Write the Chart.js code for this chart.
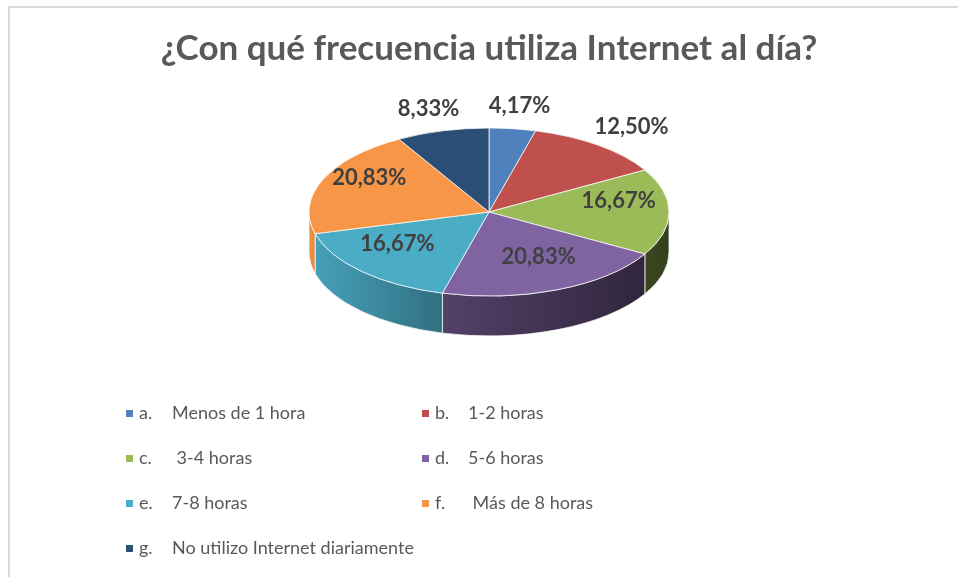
<!DOCTYPE html>
<html>
<head>
<meta charset="utf-8">
<script src="https://cdn.jsdelivr.net/npm/chart.js@4.4.1/dist/chart.umd.min.js"></script>
<style>
  html, body { margin: 0; padding: 0; background: #fff; }
  #wrap { position: relative; width: 958px; height: 577px; overflow: hidden; }
  #frame { position: absolute; left: 8px; top: 6px; width: 960px; height: 580px;
           border-left: 2px solid #d9d9d9; border-top: 2px solid #d9d9d9; }
  canvas { position: absolute; left: 0; top: 0; }
</style>
</head>
<body>
<div id="wrap">
  <div id="frame"></div>
  <canvas id="chart" width="958" height="577"></canvas>
</div>
<script>
const title = '¿Con qué frecuencia utiliza Internet al día?';
const letters = ['a.', 'b.', 'c.', 'd.', 'e.', 'f.', 'g.'];
const categories = ['Menos de 1 hora', '1-2 horas', ' 3-4 horas', '5-6 horas', '7-8 horas', ' Más de 8 horas', 'No utilizo Internet diariamente'];
const percentages = [4.17, 12.50, 16.67, 20.83, 16.67, 20.83, 8.33];
const colors = ['#4f81bd', '#c0504d', '#9bbb59', '#8064a2', '#4bacc6', '#f79646', '#2c4d75'];

// fake 3d look: squash the pie and put a darker rim under it
const PIE_CY = 212;
const TILT = 84 / 180;
const DEPTH = 40;

// legend grid
const LEGEND_COLS = [126, 422];
const LEGEND_ROWS = [413, 458, 503, 548];

function shade(hex, f) {
  const n = parseInt(hex.slice(1), 16);
  const r = Math.round(((n >> 16) & 255) * f);
  const g = Math.round(((n >> 8) & 255) * f);
  const b = Math.round((n & 255) * f);
  return `rgb(${r}, ${g}, ${b})`;
}

const fmt = (v) => v.toFixed(2).replace('.', ',') + '%';

const pie3d = {
  id: 'pie3d',
  beforeDatasetsDraw(chart) {
    const ctx = chart.ctx;
    const arcs = chart.getDatasetMeta(0).data;
    const { x: cx, y: cy, outerRadius: r } = arcs[0];
    const d = DEPTH / TILT;

    ctx.save();
    ctx.translate(0, PIE_CY);
    ctx.scale(1, TILT);
    ctx.translate(0, -cy);

    // side of the slices that face the viewer (angles 0..PI)
    arcs.forEach((arc, i) => {
      const a0 = Math.max(arc.startAngle, 0);
      const a1 = Math.min(arc.endAngle, Math.PI);
      if (a1 <= a0) return;
      const g = ctx.createLinearGradient(cx - r, 0, cx + r, 0);
      g.addColorStop(0, shade(colors[i], 0.95));
      g.addColorStop(0.35, shade(colors[i], 0.66));
      g.addColorStop(1, shade(colors[i], 0.34));
      ctx.beginPath();
      ctx.arc(cx, cy, r, a0, a1);
      ctx.lineTo(cx + r * Math.cos(a1), cy + d + r * Math.sin(a1));
      ctx.arc(cx, cy + d, r, a1, a0, true);
      ctx.closePath();
      ctx.fillStyle = g;
      ctx.fill();
      ctx.lineWidth = 1;
      ctx.strokeStyle = '#ffffff';
      ctx.stroke();
    });
  },
  afterDatasetsDraw(chart) {
    chart.ctx.restore();
  }
};

const sliceLabels = {
  id: 'sliceLabels',
  afterDraw(chart) {
    const ctx = chart.ctx;
    const arcs = chart.getDatasetMeta(0).data;
    ctx.save();
    ctx.font = 'bold 22px Lato';
    ctx.fillStyle = '#404040';
    ctx.textAlign = 'center';
    ctx.textBaseline = 'middle';
    arcs.forEach((arc, i) => {
      const mid = (arc.startAngle + arc.endAngle) / 2;
      const outside = percentages[i] < 13;
      const f = outside ? 1.3 : 0.72;
      const x = arc.x + arc.outerRadius * f * Math.cos(mid);
      const y = PIE_CY + TILT * arc.outerRadius * f * Math.sin(mid) - (outside ? -2 : 11);
      ctx.fillText(fmt(percentages[i]), x, y);
    });
    ctx.restore();
  }
};

const legendGrid = {
  id: 'legendGrid',
  afterDraw(chart) {
    const ctx = chart.ctx;
    ctx.save();
    ctx.font = '18px Lato';
    ctx.textBaseline = 'middle';
    chart.data.labels.forEach((label, i) => {
      const x = LEGEND_COLS[i % 2];
      const y = LEGEND_ROWS[Math.floor(i / 2)];
      ctx.fillStyle = colors[i];
      ctx.fillRect(x, y - 3, 7, 7);
      ctx.fillStyle = '#595959';
      ctx.fillText(letters[i], x + 13, y);
      ctx.fillText(label, x + 46, y);
    });
    ctx.restore();
  }
};

new Chart(document.getElementById('chart'), {
  type: 'pie',
  data: {
    labels: categories,
    datasets: [{
      data: percentages,
      backgroundColor: colors,
      borderColor: '#ffffff',
      borderWidth: 1,
      clip: false
    }]
  },
  options: {
    responsive: false,
    animation: false,
    radius: 180,
    layout: { padding: { left: 20, right: 0, top: 0, bottom: 60 } },
    plugins: {
      legend: { display: false },
      tooltip: { enabled: false },
      title: {
        display: true,
        text: title,
        color: '#595959',
        font: { family: 'Lato', size: 35, weight: 'bold' },
        padding: { top: 28, bottom: 10 }
      }
    }
  },
  plugins: [pie3d, sliceLabels, legendGrid]
});
</script>
</body>
</html>
